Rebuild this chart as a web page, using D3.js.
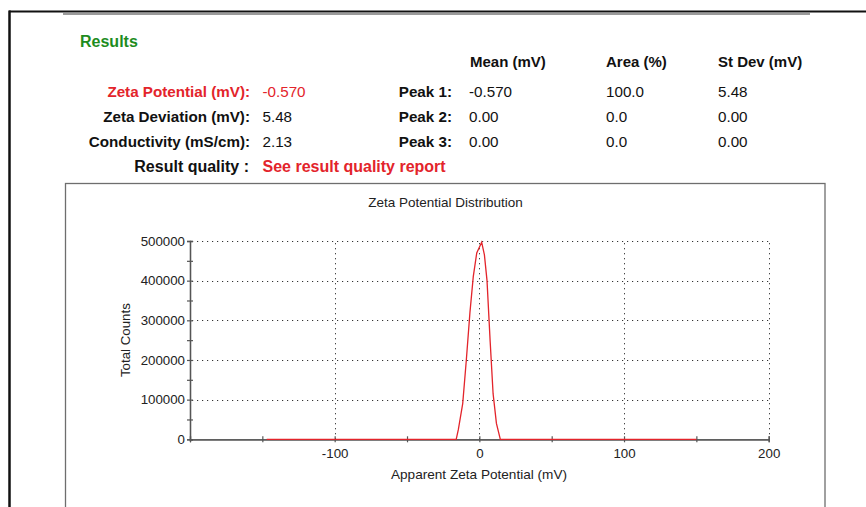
<!DOCTYPE html>
<html><head><meta charset="utf-8">
<script src="https://cdn.jsdelivr.net/npm/d3@7"></script>
<style>
html,body{margin:0;padding:0;background:#fff;}
svg{display:block;font-family:"Liberation Sans",Arial,sans-serif;}
</style></head>
<body>
<svg id="c" width="866" height="507"></svg>
<script>
// ---- Data ----
const resultLabels = ["Zeta Potential (mV):", "Zeta Deviation (mV):", "Conductivity (mS/cm):"];
const resultValues = ["-0.570", "5.48", "2.13"];
const peakHeaders = ["Mean (mV)", "Area (%)", "St Dev (mV)"];
const peakNames = ["Peak 1:", "Peak 2:", "Peak 3:"];
const peakMeans = ["-0.570", "0.00", "0.00"];
const peakAreas = ["100.0", "0.0", "0.0"];
const peakStDevs = ["5.48", "0.00", "0.00"];

const zetaMV = [-147, -16, -14.5, -11.5, -9, -6.5, -4.2, -1.8, 1.6, 3.5, 5.3, 7.5, 9.5, 11.8, 14.5, 150];
const totalCounts = [0, 0, 25000, 90000, 200000, 320000, 410000, 470000, 497000, 465000, 400000, 245000, 115000, 40000, 0, 0];

const xMajorTicks = [-100, 0, 100, 200];
const xAllTicks = [-200, -150, -100, -50, 0, 50, 100, 150, 200];
const yMajorTicks = [0, 100000, 200000, 300000, 400000, 500000];
const yAllTicks = [0, 50000, 100000, 150000, 200000, 250000, 300000, 350000, 400000, 450000, 500000];

const svg = d3.select("#c");
const RED = "#e3242b";

// ---- Page frame ----
svg.append("line").attr("x1",9).attr("x2",866).attr("y1",11.5).attr("y2",11.5).attr("stroke","#111").attr("stroke-width",2);
svg.append("line").attr("x1",63).attr("x2",810).attr("y1",14).attr("y2",14).attr("stroke","#9a9a9a").attr("stroke-width",2);
svg.append("line").attr("x1",9.5).attr("x2",9.5).attr("y1",10.5).attr("y2",507).attr("stroke","#111").attr("stroke-width",2.5);

// ---- Results table ----
const hdr = svg.append("g").attr("font-size","15.2px");
hdr.append("text").attr("x",80).attr("y",47).attr("fill","#1e8c1e").attr("font-weight","bold").attr("font-size","16px").text("Results");

const rowY = [96.5, 121.5, 146.5];
const headX = [470, 606, 718];
hdr.selectAll("text.ph").data(peakHeaders).join("text").attr("class","ph")
  .attr("x",(d,i)=>headX[i]).attr("y",66.5).attr("font-weight","bold").attr("font-size","15px").attr("fill","#111").text(d=>d);

hdr.selectAll("text.rl").data(resultLabels).join("text").attr("class","rl")
  .attr("x",250).attr("y",(d,i)=>rowY[i]).attr("text-anchor","end").attr("font-weight","bold")
  .attr("fill",(d,i)=>i===0?RED:"#111").text(d=>d);
hdr.selectAll("text.rv").data(resultValues).join("text").attr("class","rv")
  .attr("x",262.5).attr("y",(d,i)=>rowY[i])
  .attr("fill",(d,i)=>i===0?RED:"#111").text(d=>d);

hdr.selectAll("text.pn").data(peakNames).join("text").attr("class","pn")
  .attr("x",452).attr("y",(d,i)=>rowY[i]).attr("text-anchor","end").attr("font-weight","bold").attr("fill","#111").text(d=>d);
[peakMeans, peakAreas, peakStDevs].forEach((col,ci)=>{
  hdr.selectAll("text.pc"+ci).data(col).join("text").attr("class","pc"+ci)
    .attr("x",[469,606,718][ci]).attr("y",(d,i)=>rowY[i]).attr("fill","#111").text(d=>d);
});
hdr.append("text").attr("x",249).attr("y",171.5).attr("text-anchor","end").attr("font-weight","bold").attr("font-size","16px").attr("fill","#111").text("Result quality :");
hdr.append("text").attr("x",262.5).attr("y",171.5).attr("font-weight","bold").attr("font-size","16px").attr("fill",RED).text("See result quality report");

// ---- Chart box ----
svg.append("rect").attr("x",65.5).attr("y",183.5).attr("width",759.5).attr("height",340)
  .attr("fill","none").attr("stroke","#6e6e6e").attr("stroke-width",1.3);

svg.append("text").attr("x",445.5).attr("y",206.5).attr("text-anchor","middle").attr("font-size","13.5px").attr("fill","#222")
  .text("Zeta Potential Distribution");

// ---- Scales ----
const x = d3.scaleLinear().domain([-200, 200]).range([190, 768.7]);
const y = d3.scaleLinear().domain([0, 500000]).range([439.3, 241]);

// grid
const grid = svg.append("g").attr("stroke","#333").attr("stroke-width",1).attr("stroke-dasharray","1.2,3.8");
grid.selectAll("line.h").data(yMajorTicks.filter(v=>v>0)).join("line").attr("class","h")
  .attr("x1",x(-200)+2).attr("x2",x(200)).attr("y1",d=>Math.round(y(d))+0.5).attr("y2",d=>Math.round(y(d))+0.5);
grid.selectAll("line.v").data(xMajorTicks).join("line").attr("class","v")
  .attr("y1",y(0)).attr("y2",y(500000)).attr("x1",d=>Math.round(x(d))+0.5).attr("x2",d=>Math.round(x(d))+0.5);

// axes
const fmtY = d => yMajorTicks.includes(d) ? String(d) : "";
const fmtX = d => xMajorTicks.includes(d) ? String(d) : "";

svg.append("g").attr("transform",`translate(${x(-200)},0)`)
  .call(d3.axisLeft(y).tickValues(yAllTicks).tickSize(3).tickPadding(2).tickFormat(fmtY));
svg.append("g").attr("transform",`translate(${x(-200)},0)`)
  .call(d3.axisLeft(y).tickValues(yAllTicks).tickSize(-3).tickFormat(""));

svg.append("g").attr("transform",`translate(0,${y(0)})`)
  .call(d3.axisBottom(x).tickValues(xAllTicks).tickSize(3).tickPadding(6).tickFormat(fmtX));
svg.append("g").attr("transform",`translate(0,${y(0)})`)
  .call(d3.axisBottom(x).tickValues(xAllTicks).tickSize(-3).tickFormat(""));

svg.selectAll(".domain").attr("stroke","#555").attr("stroke-width",1.3);
svg.selectAll(".tick line").attr("stroke","#555").attr("stroke-width",1.2);
svg.selectAll(".tick text").attr("font-size","13.3px").attr("fill","#222").attr("font-family","Liberation Sans, Arial, sans-serif");

// axis titles
svg.append("text").attr("transform",`translate(130,${(y(0)+y(500000))/2}) rotate(-90)`).attr("text-anchor","middle")
  .attr("font-size","13.3px").attr("fill","#222").text("Total Counts");
svg.append("text").attr("x",479).attr("y",478.5).attr("text-anchor","middle").attr("font-size","13.6px").attr("fill","#222")
  .text("Apparent Zeta Potential (mV)");

// line
const line = d3.line().x((d,i)=>x(zetaMV[i])).y(d=>y(d));
svg.append("path").datum(totalCounts).attr("d",line).attr("fill","none").attr("stroke",RED).attr("stroke-width",1.3);
</script>
</body></html>
